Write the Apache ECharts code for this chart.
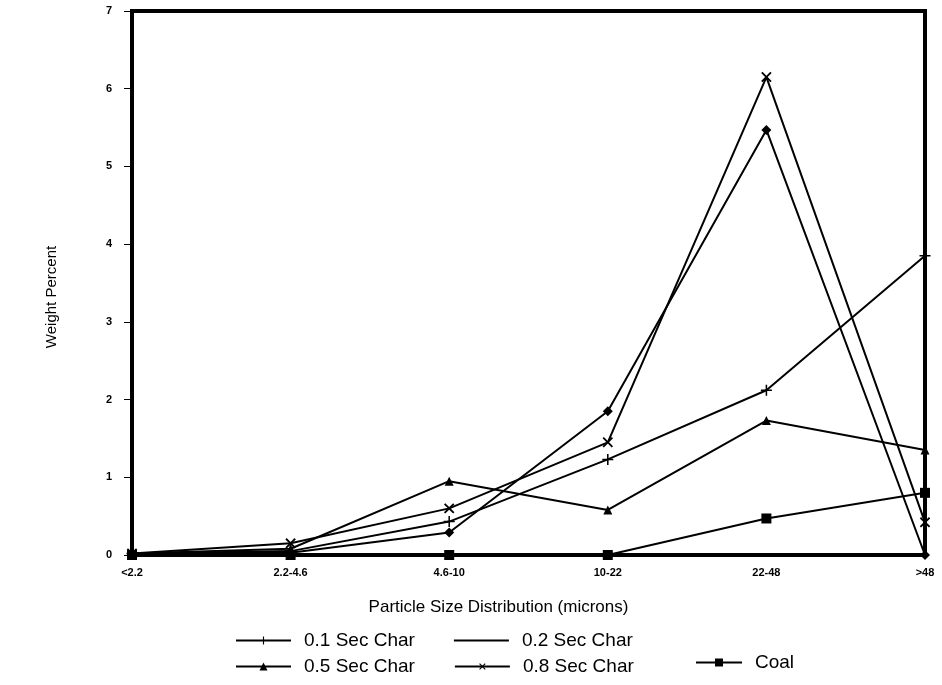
<!DOCTYPE html>
<html>
<head>
<meta charset="utf-8">
<script src="https://cdn.jsdelivr.net/npm/echarts@6/dist/echarts.min.js"></script>
<style>
  html, body { margin: 0; padding: 0; background: #fff; }
  #chart { width: 942px; height: 685px; }
</style>
</head>
<body>
<div id="chart"></div>
<script>
// particle size bins
const sizeBins = ['<2.2', '2.2-4.6', '4.6-10', '10-22', '22-48', '>48'];

// weight percent per bin
const char01 = [0.02, 0.05, 0.43, 1.23, 2.12, 3.85];
const char02 = [0.02, 0.03, 0.29, 1.85, 5.47, 0.0];
const char05 = [0.02, 0.08, 0.95, 0.58, 1.73, 1.35];
const char08 = [0.02, 0.15, 0.60, 1.45, 6.15, 0.42];
const coal   = [0.0, 0.0, 0.0, 0.0, 0.47, 0.80];

const yTicks = [0, 1, 2, 3, 4, 5, 6, 7];

const plusPath = 'path://M4.3,0L5.7,0L5.7,4.3L10,4.3L10,5.7L5.7,5.7L5.7,10L4.3,10L4.3,5.7L0,5.7L0,4.3L4.3,4.3Z';
// plain line for the legend (0.2 shows no marker there)
const plainLine = 'path://M0,0L0.01,0L0.01,0.01Z M0,4L56,4L56,6L0,6Z M0,10L0.01,10L0.01,9.99Z';

const chart = echarts.init(document.getElementById('chart'));

function lineSeries(name, data, symbol, size, rotate) {
    return {
        name: name,
        type: 'line',
        data: data,
        symbol: symbol,
        symbolSize: size,
        symbolRotate: rotate || 0,
        showAllSymbol: true,
        lineStyle: { color: '#000', width: 2 },
        itemStyle: { color: '#000', borderColor: '#000', borderWidth: 0 },
        emphasis: { disabled: true },
        z: 3
    };
}

const legendText = { fontSize: 19, color: '#000', fontFamily: 'Liberation Sans, Arial, sans-serif', padding: [0, 0, 0, 8] };

const option = {
    backgroundColor: '#fff',
    animation: false,
    textStyle: { fontFamily: 'Liberation Sans, Arial, sans-serif', color: '#000' },
    grid: {
        left: 132, right: 17, top: 11, bottom: 130,
        show: true, borderColor: '#000', borderWidth: 4, backgroundColor: '#fff'
    },
    legend: [{
        data: ['0.1 Sec Char', { name: '0.2 Sec Char', icon: plainLine }],
        left: 230, top: 626,
        itemWidth: 55, itemHeight: 10, itemGap: 39,
        textStyle: legendText
    }, {
        data: ['0.5 Sec Char', '0.8 Sec Char'],
        left: 230, top: 652,
        itemWidth: 55, itemHeight: 10, itemGap: 39,
        textStyle: legendText
    }, {
        data: ['Coal'],
        left: 690, top: 648,
        itemWidth: 46, itemHeight: 10,
        textStyle: legendText
    }],
    xAxis: {
        type: 'category',
        data: sizeBins,
        boundaryGap: false,
        name: 'Particle Size Distribution (microns)',
        nameLocation: 'middle',
        nameGap: 44,
        nameTextStyle: { fontSize: 17, color: '#000', padding: [0, 60, 0, 0] },
        axisLine: { lineStyle: { color: '#000', width: 4 } },
        axisTick: { show: false },
        axisLabel: { color: '#000', fontWeight: 'bold', fontSize: 11, margin: 12 },
        splitLine: { show: false }
    },
    yAxis: {
        type: 'value',
        min: yTicks[0],
        max: yTicks[yTicks.length - 1],
        interval: 1,
        name: 'Weight Percent',
        nameLocation: 'middle',
        nameGap: 73,
        nameTextStyle: { fontSize: 15, color: '#000', padding: [0, 28, 0, 0] },
        axisLine: { show: true, lineStyle: { color: '#000', width: 4 } },
        axisTick: { show: true, length: 8, lineStyle: { color: '#000', width: 1 } },
        axisLabel: { color: '#000', fontWeight: 'bold', fontSize: 11, margin: 20 },
        splitLine: { show: false }
    },
    series: [
        lineSeries('0.1 Sec Char', char01, plusPath, 11),
        lineSeries('0.2 Sec Char', char02, 'diamond', 10),
        lineSeries('0.5 Sec Char', char05, 'triangle', 9),
        lineSeries('0.8 Sec Char', char08, plusPath, 13, 45),
        lineSeries('Coal', coal, 'rect', 10)
    ]
};

chart.setOption(option);
</script>
</body>
</html>
